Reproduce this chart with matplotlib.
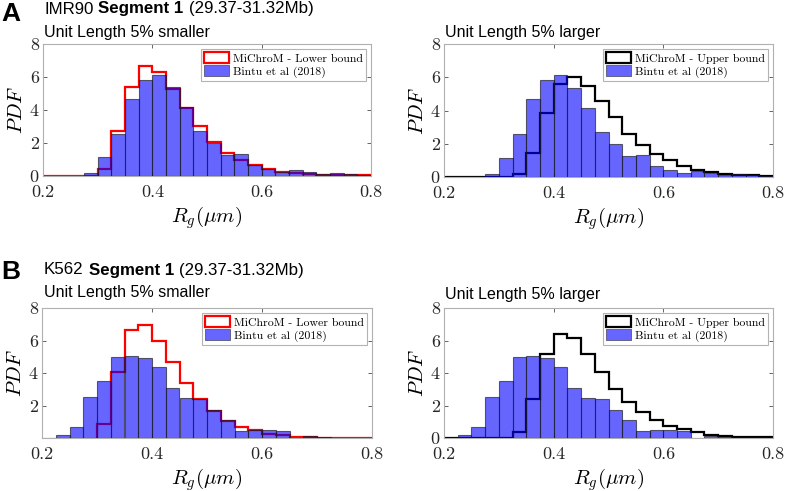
import matplotlib
matplotlib.use('Agg')
import matplotlib.pyplot as plt
import numpy as np

plt.rcParams['mathtext.fontset'] = 'cm'
plt.rcParams['axes.formatter.use_mathtext'] = True

# bin edges of all histograms (width 0.025)
edges = np.round(np.arange(0.2, 0.8001, 0.025), 3)

# Bintu et al (2018) PDFs, one value per bin
bintu_imr90 = [0, 0, 0, 0.2, 1.14, 2.57, 4.68, 5.83, 6.13, 5.37, 4.18, 2.72, 2.0, 1.28,
               1.32, 0.65, 0.45, 0.26, 0.35, 0.22, 0.12, 0.17, 0.11, 0.04]
bintu_k562 = [0, 0.17, 0.7, 2.55, 3.52, 4.96, 5.04, 4.9, 4.35, 3.08, 2.48, 2.42, 1.7, 1.09,
              0.43, 0.48, 0.47, 0.44, 0, 0.12, 0.04, 0, 0, 0]

# MiChroM PDFs
lower_imr90 = [0, 0, 0, 0, 0.45, 2.75, 5.42, 6.64, 6.31, 5.26, 4.1, 3.03, 2.05, 1.4,
               0.95, 0.65, 0.45, 0.24, 0.2, 0.14, 0.08, 0.06, 0.04, 0.04]
upper_imr90 = [0, 0, 0, 0, 0, 0.16, 1.47, 3.83, 5.58, 5.99, 5.48, 4.6, 3.59, 2.58,
               1.92, 1.37, 1.0, 0.66, 0.44, 0.3, 0.2, 0.14, 0.1, 0.06]
lower_k562 = [0, 0, 0, 0, 0.88, 4.04, 6.63, 6.98, 6.0, 4.65, 3.41, 2.39, 1.67, 1.06,
              0.67, 0.49, 0.27, 0.16, 0.06, 0.06, 0, 0, 0, 0]
upper_k562 = [0, 0, 0, 0, 0, 0.35, 2.4, 5.2, 6.37, 6.16, 5.16, 4.06, 3.0, 2.2,
              1.63, 1.1, 0.75, 0.55, 0.35, 0.2, 0.12, 0.08, 0.06, 0.04]

W, H = 785, 491
fig = plt.figure(figsize=(W / 100, H / 100), dpi=100)


def px_axes(x0, y0, x1, y1):
    return fig.add_axes([x0 / W, 1 - y1 / H, (x1 - x0) / W, (y1 - y0) / H])


def panel(ax, bintu, model, color, label, yticks, start):
    m = np.array(model, dtype=float)
    lo = start
    ax.stairs(m[lo:], edges[lo:], color=color, lw=1.6, zorder=2, baseline=None)
    if lo > 0:
        ax.plot([edges[lo], edges[lo]], [0, m[lo]], color=color, lw=1.6, zorder=2)
    ax.bar(edges[:-1], bintu, width=0.025, align='edge', color=(0, 0, 1, 0.6),
           edgecolor=(0.1, 0.1, 0.1, 0.65), lw=0.8, zorder=3)
    ax.set_xlim(0.2, 0.8)
    ax.set_ylim(0, 8)
    ax.set_xticks([0.2, 0.4, 0.6, 0.8])
    ax.set_xticklabels(['0.2', '0.4', '0.6', '0.8'])
    ax.set_yticks(yticks)
    ax.set_yticklabels([str(t) for t in yticks])
    for lab in ax.get_xticklabels() + ax.get_yticklabels():
        lab.set_family('cmr10')
        lab.set_fontsize(13)
    ax.tick_params(direction='in', top=True, right=True, length=3, width=0.5,
                   colors='#262626', pad=3)
    ax.tick_params(axis='x', pad=6)
    for s in ax.spines.values():
        s.set_color('#b0b0b0')
        s.set_linewidth(0.8)
    ax.set_xlabel(r'$R_g(\mu m)$', fontsize=15, labelpad=3)
    ax.set_ylabel(r'$PDF$', fontsize=15, labelpad=3)
    h1 = plt.Rectangle((0, 0), 1, 1, facecolor='white', edgecolor=color, lw=1.6)
    h2 = plt.Rectangle((0, 0), 1, 1, facecolor=(0.4, 0.4, 1.0), edgecolor='#555577', lw=0.6)
    leg = ax.legend([h1, h2], [label, 'Bintu et al (2018)'], loc='upper right',
                    prop={'family': 'cmr10', 'size': 8.5}, fancybox=False,
                    edgecolor='#a0a0a0', borderpad=0.3, handlelength=2.1,
                    handleheight=1.0, handletextpad=0.3, labelspacing=0.15,
                    borderaxespad=0.4)
    leg.get_frame().set_linewidth(0.8)
    leg.set_zorder(5)


axA1 = px_axes(43, 44, 371, 176)
axA2 = px_axes(444, 44, 773, 177)
axB1 = px_axes(42, 308, 372, 438)
axB2 = px_axes(444, 308, 773, 438)

panel(axA1, bintu_imr90, lower_imr90, 'red', 'MiChroM - Lower bound', [0, 2, 4, 6, 8], 0)
panel(axA2, bintu_imr90, upper_imr90, 'black', 'MiChroM - Upper bound', [0, 2, 4, 6, 8], 0)
panel(axB1, bintu_k562, lower_k562, 'red', 'MiChroM - Lower bound', [2, 4, 6, 8], 4)
panel(axB2, bintu_k562, upper_k562, 'black', 'MiChroM - Upper bound', [0, 2, 4, 6, 8], 0)

sans = 'Liberation Sans'


def fy(y):
    return 1 - y / H


fig.text(1 / W, fy(14), 'A', fontsize=19, fontweight='bold', family=sans, va='center')
fig.text(1 / W, fy(272), 'B', fontsize=19, fontweight='bold', family=sans, va='center')

fig.canvas.draw()
renderer = fig.canvas.get_renderer()


def header(x, y, parts):
    for txt, weight in parts:
        t = fig.text(x / W, fy(y), txt, fontsize=12.2, fontweight=weight, family=sans,
                     va='center')
        bb = t.get_window_extent(renderer)
        x = bb.x1 + 5


header(44, 9, [('IMR90', 'normal'), ('Segment 1', 'bold'), ('(29.37-31.32Mb)', 'normal')])
header(44, 270, [('K562', 'normal'), ('Segment 1', 'bold'), ('(29.37-31.32Mb)', 'normal')])

for x, y, s in [(44, 32, 'Unit Length 5% smaller'), (445, 32, 'Unit Length 5% larger'),
                (44, 293, 'Unit Length 5% smaller'), (445, 295, 'Unit Length 5% larger')]:
    fig.text(x / W, fy(y), s, fontsize=11.5, family=sans, va='center')

fig.savefig('out.png', dpi=100)
